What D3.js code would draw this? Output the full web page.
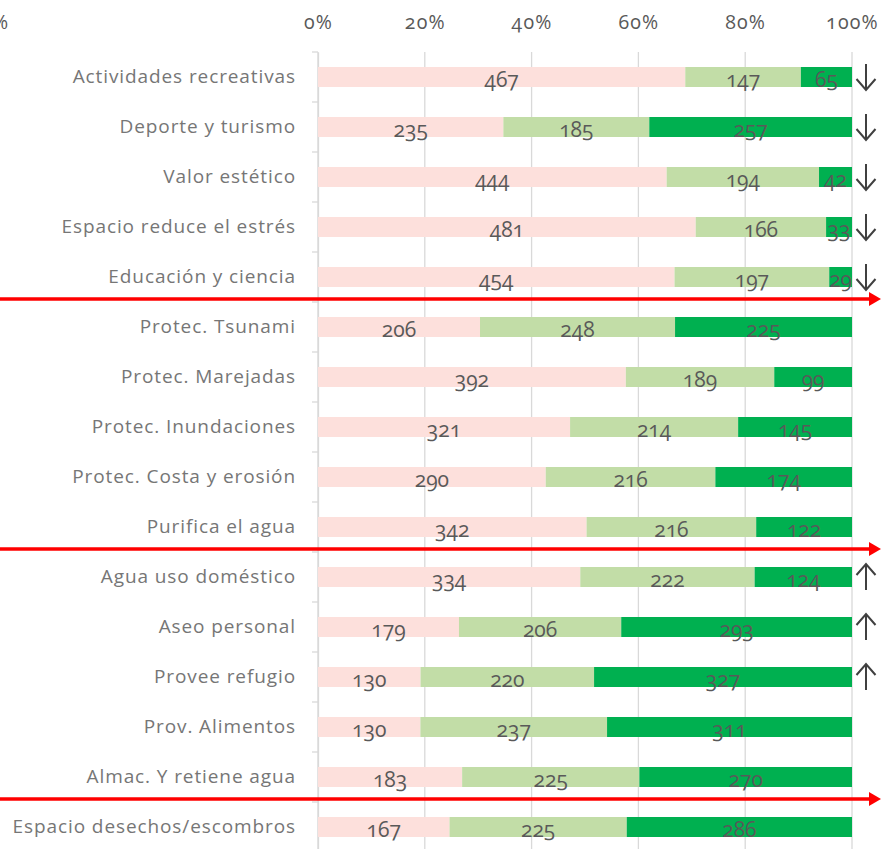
<!DOCTYPE html>
<html>
<head>
<meta charset="utf-8">
<script src="https://cdn.jsdelivr.net/npm/d3@7"></script>
<style>
  html, body { margin: 0; padding: 0; background: #ffffff; }
  svg { display: block; }
  .num { font-variant-numeric: oldstyle-nums; font-feature-settings: "onum" 1; }
</style>
</head>
<body>
<svg id="chart" width="881" height="849"></svg>
<script>
// Ecosystem services: responses per category (low / medium / high)
const categories = [
  "Actividades recreativas", "Deporte y turismo", "Valor estético",
  "Espacio reduce el estrés", "Educación y ciencia",
  "Protec. Tsunami", "Protec. Marejadas", "Protec. Inundaciones",
  "Protec. Costa y erosión", "Purifica el agua",
  "Agua uso doméstico", "Aseo personal", "Provee refugio",
  "Prov. Alimentos", "Almac. Y retiene agua",
  "Espacio desechos/escombros"
];
const lowValues  = [467, 235, 444, 481, 454, 206, 392, 321, 290, 342, 334, 179, 130, 130, 183, 167];
const midValues  = [147, 185, 194, 166, 197, 248, 189, 214, 216, 216, 222, 206, 220, 237, 225, 225];
const highValues = [65, 257, 42, 33, 29, 225, 99, 145, 174, 122, 124, 293, 327, 311, 270, 286];
const tickValues = [0, 0.2, 0.4, 0.6, 0.8, 1.0];
// trend markers drawn at the end of some rows
const trendDown = ["Actividades recreativas", "Deporte y turismo", "Valor estético",
                   "Espacio reduce el estrés", "Educación y ciencia"];
const trendUp = ["Agua uso doméstico", "Aseo personal", "Provee refugio"];
// group separators: placed after these categories
const groupEnds = ["Educación y ciencia", "Purifica el agua", "Almac. Y retiene agua"];

const seriesKeys = ["low", "mid", "high"];
const colors = { low: "#fde0dc", mid: "#c2dda7", high: "#00b050" };

const rows = categories.map((c, i) => ({
  category: c, low: lowValues[i], mid: midValues[i], high: highValues[i]
}));

const svg = d3.select("#chart");
const margin = { left: 318, right: 29, top: 52 };
const W = 881, rowH = 50;
const plotH = rowH * categories.length;

const x = d3.scaleLinear().domain([0, 1]).range([margin.left, W - margin.right]);
const y = d3.scaleBand().domain(categories).range([margin.top, margin.top + plotH]).paddingInner(0.6).paddingOuter(0.3);
const yBand = d3.scaleBand().domain(categories).range([margin.top, margin.top + plotH]);

const fontLabel = "'Open Sans', 'Noto Sans', sans-serif";
const textGray = "#595959";

// stacked, normalised to 100%
const stack = d3.stack().keys(seriesKeys).offset(d3.stackOffsetExpand);
const stacked = stack(rows);

// vertical gridlines
svg.append("g").selectAll("line").data(tickValues).join("line")
  .attr("x1", d => x(d)).attr("x2", d => x(d))
  .attr("y1", margin.top).attr("y2", margin.top + plotH)
  .attr("stroke", "#d9d9d9").attr("stroke-width", 1.3);

// top axis labels
const xAxis = d3.axisTop(x).tickValues(tickValues).tickFormat(d3.format(".0%")).tickSize(0).tickPadding(0);
const gx = svg.append("g").attr("transform", "translate(0,29)").call(xAxis);
gx.select(".domain").remove();
gx.selectAll("text")
  .attr("class", "num")
  .attr("font-family", fontLabel).attr("font-size", 19.5)
  .attr("letter-spacing", "1.2px")
  .attr("fill", textGray);

// fragment of a neighbouring axis label at the left edge
svg.append("text").attr("class", "num")
  .attr("x", 8).attr("y", 29).attr("text-anchor", "end")
  .attr("font-family", fontLabel).attr("font-size", 19.5).attr("fill", textGray)
  .text("0%");

// left category axis
const yAxis = d3.axisLeft(yBand).tickSize(0).tickPadding(22);
const gy = svg.append("g").attr("transform", `translate(${margin.left},0)`).call(yAxis);
gy.select(".domain").attr("stroke", "#d9d9d9").attr("stroke-width", 1.3);
gy.selectAll("text")
  .attr("font-family", fontLabel).attr("font-size", 19)
  .attr("fill", "#767676").attr("letter-spacing", "0.9px");
// category separator ticks
svg.append("g").selectAll("line").data(categories).join("line")
  .attr("x1", margin.left - 6).attr("x2", margin.left)
  .attr("y1", d => yBand(d)).attr("y2", d => yBand(d))
  .attr("stroke", "#d9d9d9").attr("stroke-width", 1.3);

// bars
const layer = svg.append("g").selectAll("g").data(stacked).join("g")
  .attr("fill", d => colors[d.key]);
layer.selectAll("rect").data(d => d).join("rect")
  .attr("x", d => x(d[0]))
  .attr("width", d => x(d[1]) - x(d[0]))
  .attr("y", d => y(d.data.category))
  .attr("height", y.bandwidth());

// value labels
const labels = svg.append("g");
stacked.forEach(s => {
  labels.selectAll(null).data(s).join("text")
    .attr("class", "num")
    .attr("x", d => (x(d[0]) + x(d[1])) / 2)
    .attr("y", d => y(d.data.category) + y.bandwidth() / 2 + 10)
    .attr("text-anchor", "middle")
    .attr("font-family", fontLabel).attr("font-size", 21)
    .attr("fill", textGray)
    .text(d => d.data[s.key]);
});

// trend arrows
const arrowX = 866;
function drawArrow(cat, dir) {
  const cy = yBand(cat) + yBand.bandwidth() / 2;
  const half = 13;
  const tip = cy + dir * half, tail = cy - dir * half;
  const g = svg.append("g").attr("stroke", "#404040").attr("stroke-width", 2).attr("fill", "none");
  g.append("line").attr("x1", arrowX).attr("x2", arrowX).attr("y1", tail).attr("y2", tip);
  g.append("path").attr("d", `M${arrowX - 9.5},${tip - dir * 11} L${arrowX},${tip} L${arrowX + 9.5},${tip - dir * 11}`);
}
trendDown.forEach(c => drawArrow(c, 1));
trendUp.forEach(c => drawArrow(c, -1));

// red group separators with arrowheads
const sep = svg.append("g");
groupEnds.forEach(c => {
  const yy = yBand(c) + yBand.bandwidth() - 3;
  sep.append("line").attr("x1", 0).attr("x2", 871).attr("y1", yy).attr("y2", yy)
    .attr("stroke", "#ff0000").attr("stroke-width", 3.5);
  sep.append("path").attr("d", `M869,${yy - 7} L881,${yy} L869,${yy + 7} Z`).attr("fill", "#ff0000");
});
</script>
</body>
</html>
